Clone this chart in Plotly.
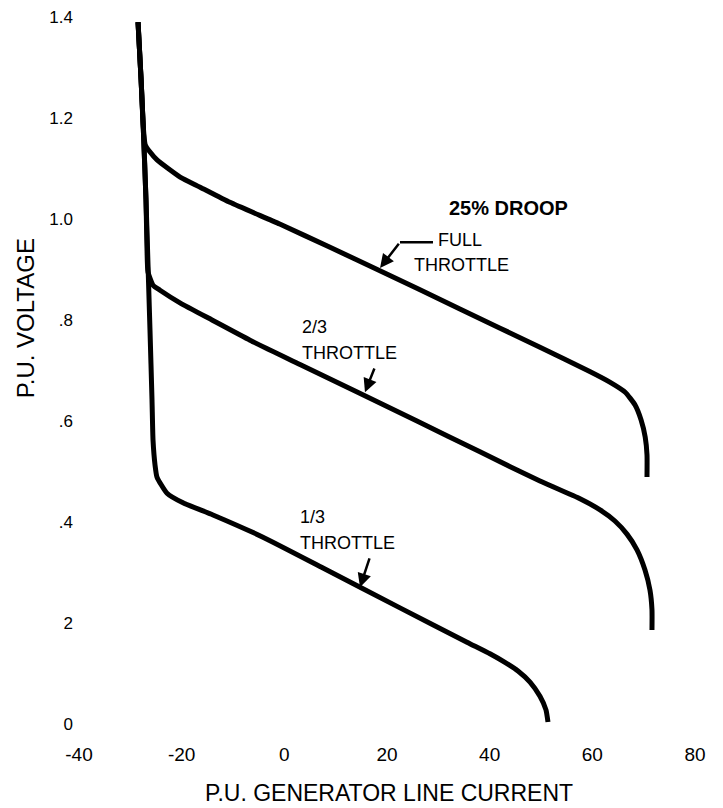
import plotly.graph_objects as go

# ---- data ----
full_x = [-28.5, -27.9, -27.5, -27.1, -26.2, -24.8, -20.3, -16.4, -10.6, -0.9, 8.9, 18.1,
          34.2, 49.8, 59.5, 63.4, 66.4, 68.3, 69.5, 70.3, 70.65, 70.65]
full_y = [1.390, 1.275, 1.186, 1.147, 1.133, 1.117, 1.083, 1.063, 1.033, 0.990, 0.944, 0.900,
          0.822, 0.746, 0.698, 0.677, 0.657, 0.632, 0.602, 0.568, 0.533, 0.489]

twothird_x = [-28.5, -27.9, -27.5, -26.95, -26.75, -26.56, -25.58, -24.22, -20.33, -14.09, -6.69,
              3.05, 25.84, 38.11, 49.8, 57.6, 61.5, 64.4, 66.75, 68.7, 70.26, 71.23, 71.62, 71.62]
twothird_y = [1.390, 1.275, 1.186, 1.038, 0.939, 0.895, 0.869, 0.859, 0.834, 0.800, 0.760,
              0.712, 0.600, 0.539, 0.481, 0.446, 0.424, 0.402, 0.376, 0.345, 0.305, 0.265, 0.226, 0.186]

onethird_x = [-28.5, -27.9, -27.5, -26.95, -26.17, -25.78, -25.58, -25.19, -24.81, -22.86, -19.74,
              -13.90, -4.16, 7.53, 22.53, 35.58, 40.06, 42.98, 45.52, 47.86, 49.80, 50.97, 51.36]
onethird_y = [1.390, 1.275, 1.186, 1.038, 0.780, 0.642, 0.562, 0.513, 0.489, 0.457, 0.438,
              0.414, 0.370, 0.309, 0.230, 0.162, 0.139, 0.122, 0.105, 0.083, 0.055, 0.028, 0.004]

x_tickvals = [-40, -20, 0, 20, 40, 60, 80]
x_ticktext = ["-40", "-20", "0", "20", "40", "60", "80"]
y_tickvals = [0, 0.2, 0.4, 0.6, 0.8, 1.0, 1.2, 1.4]
y_ticktext = ["0", "2", ".4", ".6", ".8", "1.0", "1.2", "1.4"]

FONT = "Liberation Sans, Arial, Helvetica, sans-serif"

fig = go.Figure()
for xs, ys in [(full_x, full_y), (twothird_x, twothird_y), (onethird_x, onethird_y)]:
    fig.add_trace(go.Scatter(x=xs, y=ys, mode="lines",
                             line=dict(color="black", width=5, shape="spline", smoothing=0.5),
                             cliponaxis=False, showlegend=False, hoverinfo="skip"))

annots = []
# labels
annots.append(dict(x=43.76, y=1.022, text="<b>25% DROOP</b>", showarrow=False,
                   font=dict(size=20, color="black", family=FONT), xanchor="center", yanchor="middle"))
annots.append(dict(x=34.2, y=0.958, text="FULL", showarrow=False,
                   font=dict(size=18, color="black", family=FONT), xanchor="center", yanchor="middle"))
annots.append(dict(x=34.6, y=0.909, text="THROTTLE", showarrow=False,
                   font=dict(size=18, color="black", family=FONT), xanchor="center", yanchor="middle"))
annots.append(dict(x=3.05, y=0.786, text="2/3", showarrow=False,
                   font=dict(size=18, color="black", family=FONT), xanchor="left", yanchor="middle"))
annots.append(dict(x=3.05, y=0.735, text="THROTTLE", showarrow=False,
                   font=dict(size=18, color="black", family=FONT), xanchor="left", yanchor="middle"))
annots.append(dict(x=2.66, y=0.410, text="1/3", showarrow=False,
                   font=dict(size=18, color="black", family=FONT), xanchor="left", yanchor="middle"))
annots.append(dict(x=2.66, y=0.358, text="THROTTLE", showarrow=False,
                   font=dict(size=18, color="black", family=FONT), xanchor="left", yanchor="middle"))
# arrows
for (tx, ty, hx, hy) in [(22.53, 0.954, 18.64, 0.903), (17.66, 0.707, 15.71, 0.657), (16.69, 0.331, 14.74, 0.271)]:
    annots.append(dict(x=hx, y=hy, ax=tx, ay=ty, axref="x", ayref="y", xref="x", yref="y",
                       text="", showarrow=True, arrowhead=2, arrowsize=1.1, arrowwidth=2.5,
                       arrowcolor="black", standoff=0))
# axis titles
annots.append(dict(xref="paper", yref="paper", x=0.503, y=-0.0976, text="P.U. GENERATOR LINE CURRENT",
                   showarrow=False, font=dict(size=23, color="black", family=FONT),
                   xanchor="center", yanchor="middle"))
annots.append(dict(xref="paper", yref="paper", x=-0.0877, y=0.574, text="P.U. VOLTAGE", textangle=-90,
                   showarrow=False, font=dict(size=24, color="black", family=FONT),
                   xanchor="center", yanchor="middle"))

fig.add_shape(type="line", x0=22.53, y0=0.954, x1=28.96, y1=0.954,
              line=dict(color="black", width=2.5), xref="x", yref="y")

# the page body has an 8px margin, so the figure is sized 8px smaller and offset accordingly
fig.update_layout(
    width=715, height=800,
    margin=dict(l=71, r=28, t=9, b=84, autoexpand=False),
    paper_bgcolor="white", plot_bgcolor="white",
    annotations=annots,
    xaxis=dict(range=[-40, 80], tickvals=x_tickvals, ticktext=x_ticktext, showgrid=False,
               zeroline=False, showline=False, ticks="", ticklabelstandoff=17, automargin=False,
               ticklabeloverflow="allow",
               tickfont=dict(size=19, color="black", family=FONT)),
    yaxis=dict(range=[0, 1.4], tickvals=y_tickvals, ticktext=y_ticktext, showgrid=False,
               zeroline=False, showline=False, ticks="", ticklabelstandoff=5, automargin=False,
               ticklabeloverflow="allow",
               tickfont=dict(size=17, color="black", family=FONT)),
)

fig.write_html("out.html")
